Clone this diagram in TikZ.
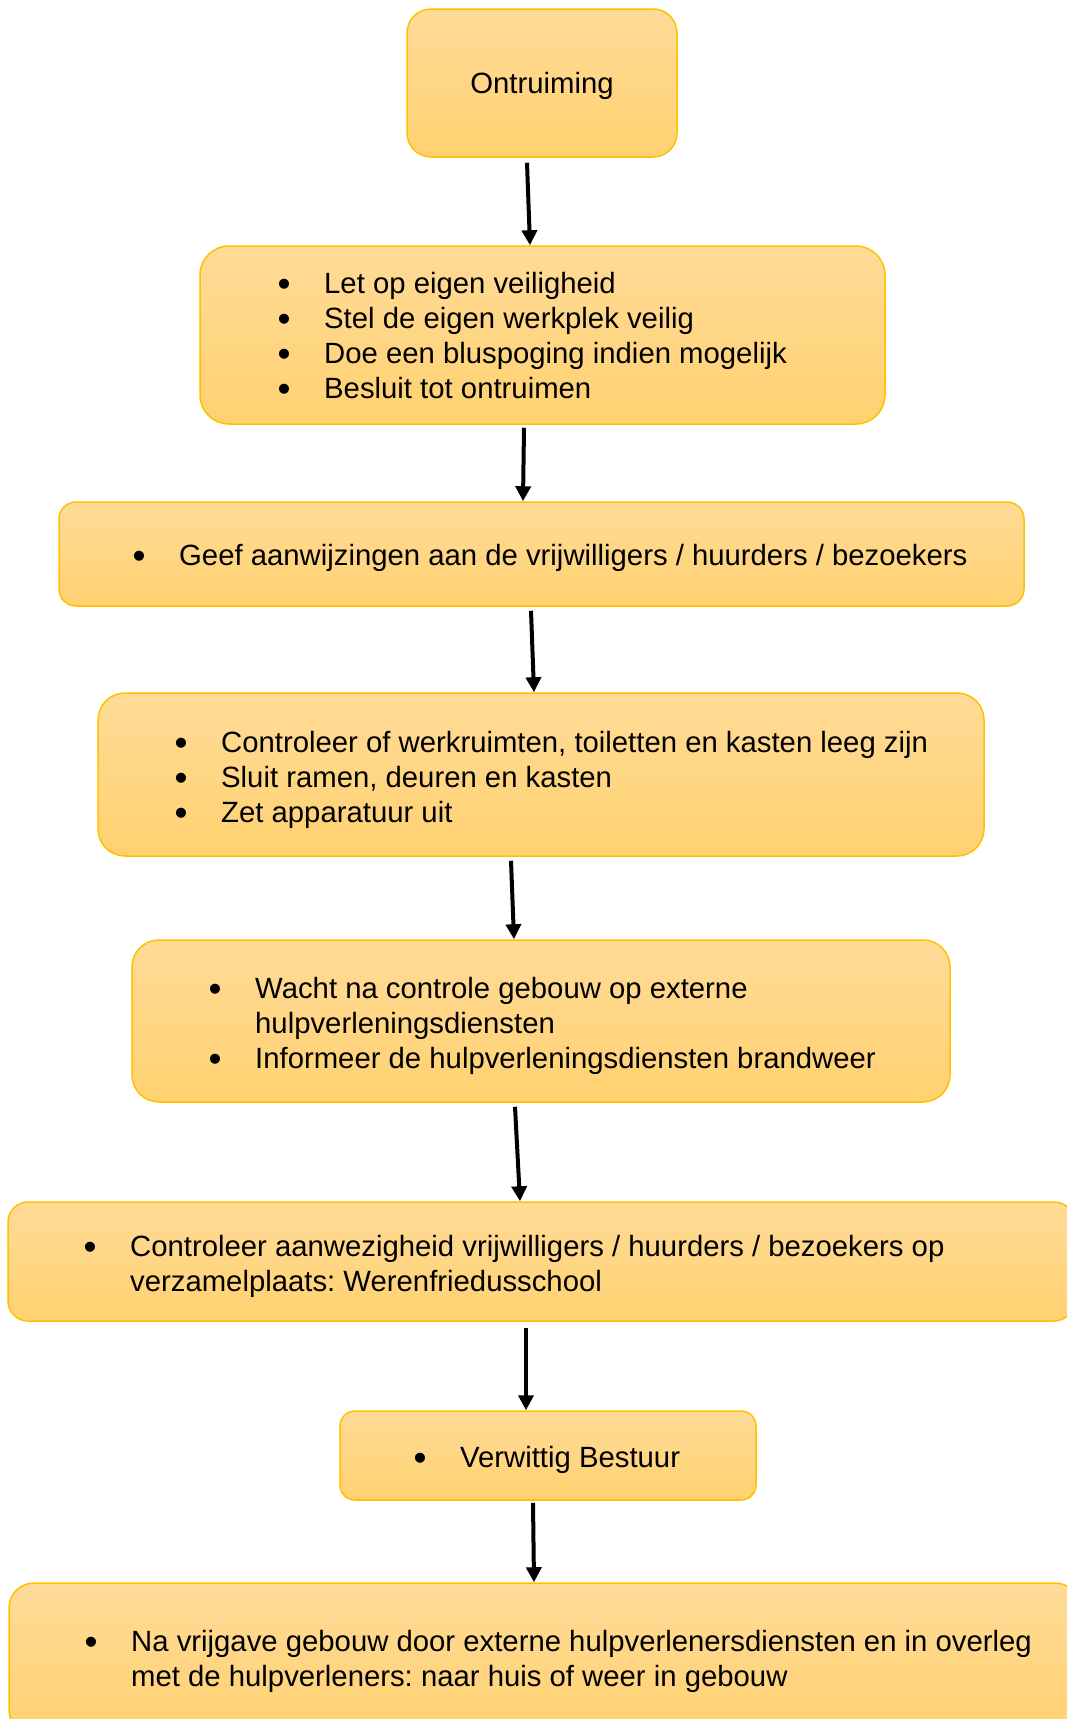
\documentclass[tikz,border=0pt]{standalone}
\usepackage{fontspec}
\setmainfont{Liberation Sans}
\usetikzlibrary{arrows.meta}
\definecolor{boxtop}{RGB}{255,219,152}
\definecolor{boxbot}{RGB}{255,209,112}
\definecolor{boxline}{RGB}{255,192,0}
\newcommand{\bitem}[1]{\makebox[0pt][c]{\raisebox{-3pt}{\fontsize{37}{37}\selectfont\textbullet}}\hspace*{40pt}#1\strut}
\newcommand{\bcont}[1]{\hspace*{40pt}#1\strut}
\frenchspacing
\begin{document}
\begin{tikzpicture}[x=1pt,y=-1pt,
  box/.style={draw=boxline, line width=1.5pt, top color=boxtop, bottom color=boxbot, inner sep=0pt},
  txt/.style={inner sep=0pt, align=left, anchor=west, font=\fontsize{29.3}{35}\selectfont},
  arr/.style={line width=4pt, -{Triangle[length=15pt,width=15pt]}}]
\useasboundingbox (0,0) rectangle (1067,1719);

% boxes
\node[box, minimum width=270pt, minimum height=148pt, rounded corners=24pt,
      text height=21pt, text depth=0pt,
      font=\fontsize{29.3}{35}\selectfont] (b1) at (542,83) {Ontruiming};
\node[box, minimum width=685pt, minimum height=178pt, rounded corners=29pt] (b2) at (542.5,335) {};
\node[box, minimum width=965pt, minimum height=104pt, rounded corners=17pt] (b3) at (541.5,554) {};
\node[box, minimum width=886pt, minimum height=163pt, rounded corners=27pt] (b4) at (541,774.5) {};
\node[box, minimum width=818pt, minimum height=162pt, rounded corners=27pt] (b5) at (541,1021) {};
\node[box, minimum width=1066pt, minimum height=119pt, rounded corners=20pt] (b6) at (541,1261.5) {};
\node[box, minimum width=416pt, minimum height=89pt, rounded corners=15pt] (b7) at (548,1455.5) {};
\node[box, minimum width=1071pt, minimum height=152pt, rounded corners=25pt] (b8) at (544.5,1659) {};

% texts
\node[txt] (t2) at (284,339) {\bitem{Let op eigen veiligheid}\\ \bitem{Stel de eigen werkplek veilig}\\ \bitem{Doe een bluspoging indien mogelijk}\\ \bitem{Besluit tot ontruimen}};
\node[txt] (t3) at (139,558) {\bitem{Geef aanwijzingen aan de vrijwilligers / huurders / bezoekers}};
\node[txt] (t4) at (181,780) {\bitem{Controleer of werkruimten, toiletten en kasten leeg zijn}\\ \bitem{Sluit ramen, deuren en kasten}\\ \bitem{Zet apparatuur uit}};
\node[txt] (t5) at (215,1026) {\bitem{Wacht na controle gebouw op externe}\\ \bcont{hulpverleningsdiensten}\\ \bitem{Informeer de hulpverleningsdiensten brandweer}};
\node[txt] (t6) at (90,1267) {\bitem{Controleer aanwezigheid vrijwilligers / huurders / bezoekers op}\\ \bcont{verzamelplaats: Werenfriedusschool}};
\node[txt] (t7) at (420,1460) {\bitem{Verwittig Bestuur}};
\node[txt] (t8) at (91,1662) {\bitem{Na vrijgave gebouw door externe hulpverlenersdiensten en in overleg}\\ \bcont{met de hulpverleners: naar huis of weer in gebouw}};

% arrows
\draw[arr] ([xshift=-15pt,yshift=-5pt]b1.south) -- ([xshift=-12.5pt]b2.north);
\draw[arr] ([xshift=-18.5pt,yshift=-3pt]b2.south) -- ([xshift=-18.5pt]b3.north);
\draw[arr] ([xshift=-10.5pt,yshift=-4pt]b3.south) -- ([xshift=-7pt]b4.north);
\draw[arr] ([xshift=-30pt,yshift=-4pt]b4.south) -- ([xshift=-27pt]b5.north);
\draw[arr] ([xshift=-26pt,yshift=-4pt]b5.south) -- ([xshift=-21pt]b6.north);
\draw[arr] ([xshift=-15pt,yshift=-6pt]b6.south) -- ([xshift=-22pt]b7.north);
\draw[arr] ([xshift=-15pt,yshift=-2pt]b7.south) -- ([xshift=-10.5pt]b8.north);
\end{tikzpicture}
\end{document}
